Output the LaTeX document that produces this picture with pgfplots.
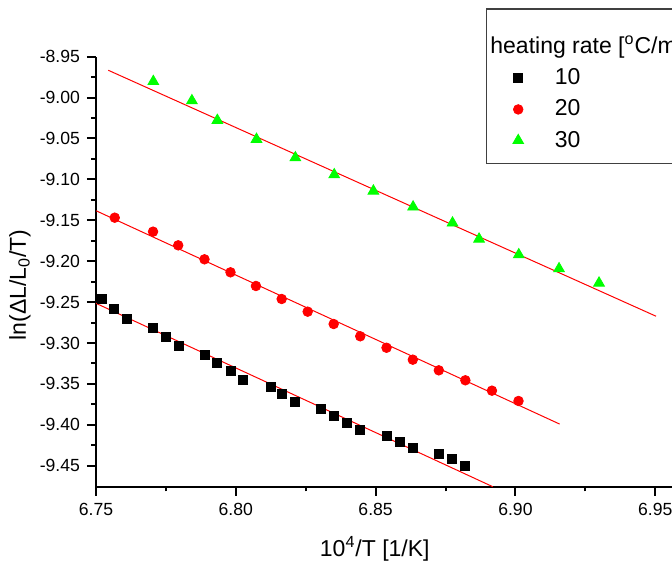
\documentclass[border=0pt]{standalone}
\usepackage{fontspec}
\setmainfont{Liberation Sans}
\usepackage{pgfplots}
\pgfplotsset{compat=1.18}

\definecolor{ogreen}{RGB}{0,255,0}

\begin{document}
\begin{tikzpicture}[x=1pt,y=1pt]
\begin{axis}[
  at={(0,0)}, anchor=south west,
  scale only axis, width=288pt, height=215pt,
  xmin=6.75, xmax=6.956, ymin=-9.4757, ymax=-8.95,
  axis lines*=left,
  axis line style={line width=1pt, -},
  xtick={6.75,6.80,6.85,6.90,6.95},
  xticklabels={6.75,6.80,6.85,6.90,6.95},
  ytick={-9.45,-9.40,-9.35,-9.30,-9.25,-9.20,-9.15,-9.10,-9.05,-9.00,-8.95},
  yticklabels={-9.45,-9.40,-9.35,-9.30,-9.25,-9.20,-9.15,-9.10,-9.05,-9.00,-8.95},
  minor x tick num=1, minor y tick num=1,
  tick align=outside,
  major tick length=4.5pt, minor tick length=2.3pt,
  every tick/.style={black, line width=1pt},
  tick label style={font=\fontsize{8.8}{10}\selectfont},
  label style={font=\fontsize{11.5}{13}\selectfont},
  xlabel={10\textsuperscript{4}/T [1/K]},
  ylabel={ln(ΔL/L\textsubscript{0}/T)},
  xlabel style={at={(axis description cs:0.484,-0.145)}, anchor=center},
  ylabel style={at={(axis description cs:-0.132,0.469)}, anchor=center},
  clip=false,
  legend image code/.code={\draw[mark repeat=1,#1] plot coordinates {(0pt,0pt)};},
  legend style={at={(axis description cs:0.723,0.982)}, anchor=north west,
    draw=none, fill=none, inner sep=0pt, row sep=2pt, column sep=13.6pt,
    font=\fontsize{11.5}{13}\selectfont},
  legend cell align=left,
]
% 10 C/min
\addplot[only marks, mark=square*, mark size=2.25pt, black] coordinates {
(6.7520,-9.2466)(6.7565,-9.2588)(6.7612,-9.2707)(6.7705,-9.2817)(6.7750,-9.2927)
(6.7796,-9.3040)(6.7888,-9.3147)(6.7934,-9.3248)(6.7981,-9.3342)(6.8026,-9.3449)
(6.8124,-9.3538)(6.8166,-9.3627)(6.8211,-9.3725)(6.8304,-9.3810)(6.8352,-9.3896)
(6.8398,-9.3978)(6.8445,-9.4060)(6.8539,-9.4137)(6.8587,-9.4210)(6.8633,-9.4284)
(6.8728,-9.4353)(6.8774,-9.4422)(6.8821,-9.4500)
};
\addlegendentry{10}
% 20 C/min
\addplot[only marks, mark=*, mark size=2.4pt, red, mark options={fill=red}] coordinates {
(6.7567,-9.1468)(6.7704,-9.1639)(6.7794,-9.1806)(6.7888,-9.1977)(6.7981,-9.2136)
(6.8072,-9.2303)(6.8164,-9.2462)(6.8257,-9.2617)(6.8350,-9.2768)(6.8445,-9.2918)
(6.8539,-9.3058)(6.8633,-9.3204)(6.8726,-9.3334)(6.8821,-9.3456)(6.8916,-9.3583)
(6.9011,-9.3709)
};
\addlegendentry{20}
% 30 C/min
\addplot[only marks, mark=triangle*, mark size=3.1pt, ogreen, mark options={fill=ogreen}] coordinates {
(6.7705,-8.9803)(6.7843,-9.0038)(6.7934,-9.0278)(6.8074,-9.0510)(6.8213,-9.0735)
(6.8352,-9.0943)(6.8492,-9.1142)(6.8634,-9.1337)(6.8775,-9.1533)(6.8870,-9.1729)
(6.9012,-9.1921)(6.9156,-9.2092)(6.9299,-9.2267)
};
\addlegendentry{30}
% linear fits
\addplot[red, line width=0.5pt, forget plot] coordinates {(6.75,-9.2515)(6.8919,-9.4757)};
\addplot[red, line width=0.5pt, forget plot] coordinates {(6.75,-9.1383)(6.9158,-9.3991)};
\addplot[red, line width=0.5pt, forget plot] coordinates {(6.7544,-8.9666)(6.9503,-9.2673)};
\end{axis}
\draw[line width=0.6pt, black!75] (195.35,161.7) rectangle (420,238.85);
\node[anchor=base west, inner sep=0pt, font=\fontsize{11.5}{13}\selectfont] at (197,216.7) {heating rate [\textsuperscript{o}C/min]};
\pgfresetboundingbox
\path[use as bounding box] (-48,-38.15) rectangle (288,243.35);
\end{tikzpicture}
\end{document}
